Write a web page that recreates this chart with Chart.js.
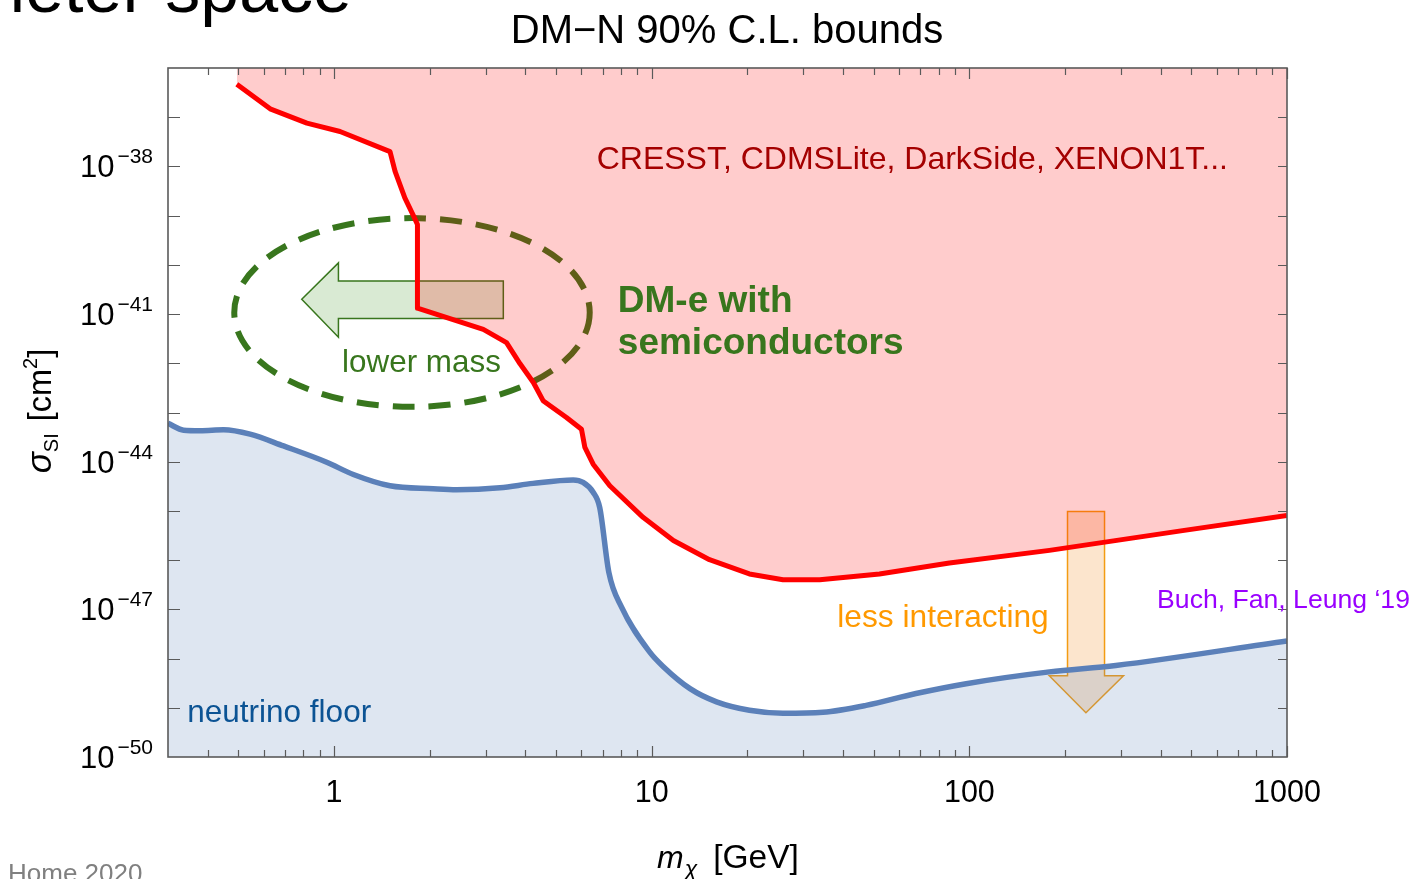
<!DOCTYPE html>
<html>
<head>
<meta charset="utf-8">
<title>DM-N 90% C.L. bounds</title>
<script src="https://cdn.jsdelivr.net/npm/chart.js@4.4.1/dist/chart.umd.min.js"></script>
<style>
  html, body { margin: 0; padding: 0; background: #fff; }
  #wrap { position: relative; width: 1416px; height: 879px; }
</style>
</head>
<body>
<div id="wrap"><canvas id="bounds"></canvas></div>
<script>
// current DM-nucleon exclusion (CRESST, CDMSLite, DarkSide, XENON1T...)
var boundMass = [0.494, 0.629, 0.821, 1.044, 1.50, 1.556, 1.67, 1.78, 1.83, 1.83, 2.95, 3.49, 3.85, 4.24, 4.55,
                 5.39, 6.01, 6.16, 6.54, 7.38, 9.39, 11.7, 15.2, 20.3, 25.9, 33.8, 52.1, 86.5, 178.6, 469, 1000];
var boundSigma = [4.68e-37, 1.48e-37, 7.59e-38, 5.13e-38, 2.00e-38, 7.94e-39, 2.29e-39, 9.77e-40, 6.61e-40, 1.32e-41,
                  4.90e-42, 2.63e-42, 9.77e-43, 4.07e-43, 1.74e-43, 7.94e-44, 4.57e-44, 1.95e-44, 8.91e-45, 3.24e-45,
                  7.41e-46, 2.51e-46, 1.02e-46, 5.25e-47, 3.98e-47, 3.98e-47, 5.25e-47, 8.71e-47, 1.58e-46, 3.98e-46, 8.04e-46];

// neutrino floor
var floorMass = [0.30, 0.336, 0.379, 0.449, 0.544, 0.693, 0.948, 1.15, 1.50, 2.05, 2.43, 3.33, 4.23, 5.66, 6.08, 6.54,
                 6.86, 7.33, 8.03, 9.86, 10.9, 13.2, 16.0, 20.3, 25.9, 34.6, 47.3, 67.9, 97.7, 178.6, 289, 1000];
var floorSigma = [6.03e-44, 4.37e-44, 4.27e-44, 4.47e-44, 3.63e-44, 2.09e-44, 9.77e-45, 5.50e-45, 3.24e-45, 2.82e-45,
                  2.69e-45, 2.95e-45, 3.63e-45, 4.27e-45, 3.80e-45, 2.40e-45, 1.17e-45, 5.62e-47, 1.12e-47, 1.35e-48,
                  6.76e-49, 2.45e-49, 1.32e-49, 8.91e-50, 7.76e-50, 8.13e-50, 1.12e-49, 1.95e-49, 3.09e-49, 5.37e-49,
                  7.24e-49, 2.29e-48];

// axes
var xMajorTicks = [1, 10, 100, 1000];
var xTickLabels = ['1', '10', '100', '1000'];
var xMinorTicks = [0.4, 0.5, 0.6, 0.7, 0.8, 0.9, 2, 3, 4, 5, 6, 7, 8, 9, 20, 30, 40, 50, 60, 70, 80, 90,
                   200, 300, 400, 500, 600, 700, 800, 900];
var yDecades = [-49, -48, -47, -46, -45, -44, -43, -42, -41, -40, -39, -38, -37];
var yLabelExps = [-38, -41, -44, -47, -50];
var yTickLabels = ['\u221238', '\u221241', '\u221244', '\u221247', '\u221250'];

var FONT = "'Liberation Sans', Arial, Helvetica, sans-serif";
function font(size, style) { return (style ? style + ' ' : '') + size + 'px ' + FONT; }

function toPixel(chart) {
  var xs = chart.scales.x, ys = chart.scales.y;
  return function (m, e) {
    return { x: xs.getPixelForValue(m), y: ys.getPixelForValue(Math.pow(10, e)) };
  };
}

function polygon(ctx, pts, fill, stroke) {
  ctx.beginPath();
  ctx.moveTo(pts[0].x, pts[0].y);
  for (var i = 1; i < pts.length; i++) ctx.lineTo(pts[i].x, pts[i].y);
  ctx.closePath();
  ctx.fillStyle = fill; ctx.fill();
  ctx.lineWidth = 1.5; ctx.strokeStyle = stroke; ctx.stroke();
}

// text made of pieces (sub/superscripts), starting at x along baseline y
function pieces(ctx, parts, x, y) {
  parts.forEach(function (p) {
    ctx.font = p.f;
    ctx.fillText(p.t, x, y + (p.dy || 0));
    x += ctx.measureText(p.t).width + (p.gap || 0);
  });
}
function piecesWidth(ctx, parts) {
  var w = 0;
  parts.forEach(function (p) { ctx.font = p.f; w += ctx.measureText(p.t).width + (p.gap || 0); });
  return w;
}

var overlay = {
  id: 'overlay',
  beforeDatasetsDraw: function (chart) {
    var ctx = chart.ctx, P = toPixel(chart);
    ctx.save();
    // dashed ellipse around DM-e reach
    var a = P(0.485, -39.05), b = P(6.38, -42.885);
    ctx.beginPath();
    ctx.ellipse((a.x + b.x) / 2, (a.y + b.y) / 2, (b.x - a.x) / 2, (b.y - a.y) / 2, 0, 0, 2 * Math.PI);
    ctx.setLineDash([22, 14]);
    ctx.lineWidth = 6;
    ctx.strokeStyle = '#38761d';
    ctx.stroke();
    ctx.setLineDash([]);
    // "lower mass" arrow
    polygon(ctx, [P(0.791, -40.70), P(1.032, -39.96), P(1.032, -40.33), P(3.41, -40.33),
                  P(3.41, -41.09), P(1.032, -41.09), P(1.032, -41.47)], '#d9ead3', '#38761d');
    // "less interacting" arrow
    polygon(ctx, [P(203.7, -45.01), P(266.4, -45.01), P(266.4, -48.35), P(305.6, -48.35),
                  P(232.8, -49.10), P(178.5, -48.35), P(203.7, -48.35)], '#fce5cd', '#f39c12');
    ctx.restore();
  },
  afterDatasetsDraw: function (chart) {
    var ctx = chart.ctx, area = chart.chartArea, P = toPixel(chart);
    var xs = chart.scales.x, ys = chart.scales.y;
    ctx.save();

    // frame + inward ticks
    ctx.strokeStyle = '#5a5a5a';
    ctx.lineWidth = 1.2;
    ctx.beginPath();
    xMajorTicks.forEach(function (v) {
      var x = Math.round(xs.getPixelForValue(v)) + 0.5;
      ctx.moveTo(x, area.bottom); ctx.lineTo(x, area.bottom - 11);
      ctx.moveTo(x, area.top); ctx.lineTo(x, area.top + 11);
    });
    xMinorTicks.forEach(function (v) {
      var x = Math.round(xs.getPixelForValue(v)) + 0.5;
      ctx.moveTo(x, area.bottom); ctx.lineTo(x, area.bottom - 7);
      ctx.moveTo(x, area.top); ctx.lineTo(x, area.top + 7);
    });
    yDecades.forEach(function (e) {
      var y = Math.round(ys.getPixelForValue(Math.pow(10, e))) + 0.5;
      ctx.moveTo(area.left, y); ctx.lineTo(area.left + 12, y);
      ctx.moveTo(area.right, y); ctx.lineTo(area.right - 9, y);
    });
    ctx.stroke();
    ctx.lineWidth = 1.6;
    ctx.strokeRect(area.left, area.top, area.right - area.left, area.bottom - area.top);

    // tick labels
    ctx.fillStyle = '#000';
    ctx.textBaseline = 'alphabetic';
    ctx.textAlign = 'center';
    ctx.font = font(30.5);
    xMajorTicks.forEach(function (v, i) {
      ctx.fillText(xTickLabels[i], xs.getPixelForValue(v), 802);
    });
    ctx.textAlign = 'right';
    yLabelExps.forEach(function (e, i) {
      var y = ys.getPixelForValue(Math.pow(10, e));
      ctx.font = font(21);
      var w = ctx.measureText(yTickLabels[i]).width;
      ctx.fillText(yTickLabels[i], 153, y - 3);
      ctx.font = font(31);
      ctx.fillText('10', 150 - w, y + 11);
    });

    // title and axis titles
    ctx.textAlign = 'center';
    ctx.font = font(40);
    ctx.fillText('DM\u2212N 90% C.L. bounds', 727, 43);

    ctx.textAlign = 'left';
    var xt = [{ t: 'm', f: font(32, 'italic'), gap: 1 }, { t: '\u03c7', f: font(23, 'italic'), dy: 8, gap: 16 },
              { t: '[GeV]', f: font(33.5) }];
    pieces(ctx, xt, 657, 868);

    var yt = [{ t: '\u03c3', f: font(35, 'italic') }, { t: 'SI', f: font(20), dy: 7, gap: 12 },
              { t: '[cm', f: font(32.5) }, { t: '2', f: font(20), dy: -14 }, { t: ']', f: font(32.5) }];
    ctx.save();
    ctx.translate(51, 411);
    ctx.rotate(-Math.PI / 2);
    pieces(ctx, yt, -piecesWidth(ctx, yt) / 2, 0);
    ctx.restore();

    // annotations
    var p;
    ctx.textAlign = 'left';
    ctx.fillStyle = '#a40000';
    ctx.font = font(32);
    p = P(6.71, -38.06);
    ctx.fillText('CRESST, CDMSLite, DarkSide, XENON1T...', p.x, p.y);

    ctx.fillStyle = '#38761d';
    ctx.font = font(37, 'bold');
    p = P(7.82, -40.96);
    ctx.fillText('DM-e with', p.x, p.y);
    p = P(7.82, -41.81);
    ctx.fillText('semiconductors', p.x, p.y);

    ctx.font = font(31.4);
    p = P(1.06, -42.18);
    ctx.fillText('lower mass', p.x, p.y);

    ctx.fillStyle = '#ff9900';
    ctx.font = font(31.7);
    p = P(38.4, -47.365);
    ctx.fillText('less interacting', p.x, p.y);

    ctx.fillStyle = '#9900ff';
    ctx.font = font(26.6);
    p = P(390, -46.98);
    ctx.fillText('Buch, Fan, Leung \u201819', p.x, p.y);

    ctx.fillStyle = '#0b5394';
    ctx.font = font(31.5);
    p = P(0.345, -49.29);
    ctx.fillText('neutrino floor', p.x, p.y);

    // slide remnants around the figure
    ctx.fillStyle = '#000';
    ctx.textAlign = 'right';
    ctx.font = font(70);
    ctx.fillText('Parameter space', 352, 12);
    ctx.fillStyle = '#808080';
    ctx.textAlign = 'left';
    ctx.font = font(26);
    ctx.fillText('Home 2020', 8, 882);

    ctx.restore();
  }
};

function pts(xs, ys) {
  return xs.map(function (m, i) { return { x: m, y: ys[i] }; });
}

var chart = new Chart(document.getElementById('bounds'), {
  type: 'line',
  data: {
    datasets: [
      {
        label: 'DM-N bound',
        data: pts(boundMass, boundSigma),
        borderColor: '#ff0000',
        backgroundColor: 'rgba(255,0,0,0.2)',
        borderWidth: 5,
        fill: 'end',
        tension: 0,
        pointRadius: 0,
        borderJoinStyle: 'round'
      },
      {
        label: 'neutrino floor',
        data: pts(floorMass, floorSigma),
        borderColor: '#5b80b9',
        backgroundColor: 'rgba(91,128,185,0.2)',
        borderWidth: 5.5,
        fill: 'start',
        cubicInterpolationMode: 'monotone',
        pointRadius: 0
      }
    ]
  },
  options: {
    responsive: true,
    maintainAspectRatio: false,
    animation: false,
    layout: { padding: { left: 168, right: 129, top: 68, bottom: 122 } },
    plugins: { legend: { display: false }, tooltip: { enabled: false }, title: { display: false } },
    scales: {
      x: { type: 'logarithmic', min: 0.3, max: 1000, display: false },
      y: { type: 'logarithmic', min: 1e-50, max: 1e-36, display: false }
    }
  },
  plugins: [overlay]
});
</script>
</body>
</html>
